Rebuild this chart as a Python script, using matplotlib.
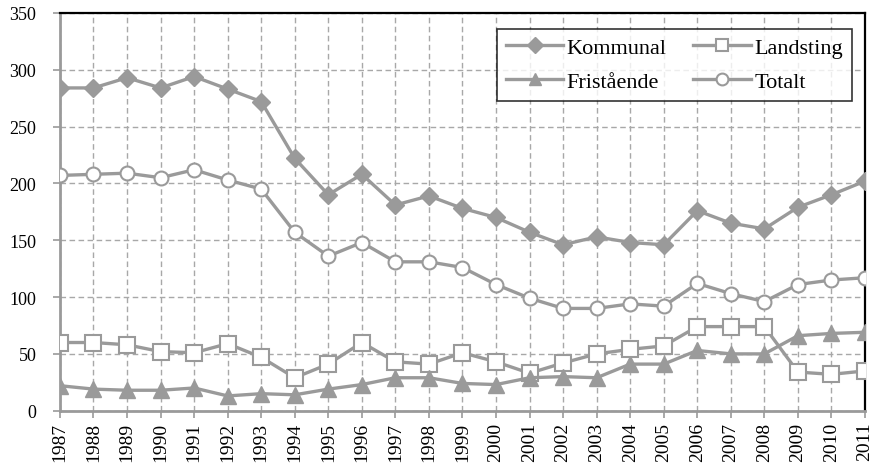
import matplotlib
matplotlib.use("Agg")
import matplotlib.pyplot as plt

years = list(range(1987, 2012))
kommunal = [284, 284, 293, 284, 294, 283, 272, 222, 190, 208, 181, 189, 178, 170, 157,
             146, 153, 148, 146, 176, 165, 160, 179, 190, 202]
landsting = [60, 60, 58, 52, 51, 59, 47, 29, 41, 60, 43, 41, 51, 43, 33,
             42, 50, 54, 57, 74, 74, 74, 34, 32, 35]
fristaende = [22, 19, 18, 18, 20, 13, 15, 14, 19, 23, 29, 29, 24, 23, 29,
              30, 29, 41, 41, 53, 50, 50, 66, 68, 69]
totalt = [207, 208, 209, 205, 212, 203, 195, 157, 136, 148, 131, 131, 126, 111, 99,
          90, 90, 94, 92, 112, 103, 96, 111, 115, 117]
yticks = [0, 50, 100, 150, 200, 250, 300, 350]

plt.rcParams['font.family'] = ['Liberation Serif', 'DejaVu Serif']
gray = '#9a9a9a'

fig = plt.figure(figsize=(8.74, 4.64), dpi=100)
ax = fig.add_axes([0.0686, 0.1127, 0.9211, 0.8573])

lw = 2.4
lk, = ax.plot(years, kommunal, color=gray, lw=lw, marker='D', ms=9, mfc=gray, mec=gray,
              label='Kommunal', zorder=3)
ll, = ax.plot(years, landsting, color=gray, lw=lw, marker='s', ms=11, mfc='white', mec=gray,
              mew=1.5, label='Landsting', zorder=3)
lf, = ax.plot(years, fristaende, color=gray, lw=lw, marker='^', ms=11, mfc=gray, mec=gray,
              label='Fristående', zorder=3)
lt, = ax.plot(years, totalt, color=gray, lw=lw, marker='o', ms=10, mfc='white', mec=gray,
              mew=1.5, label='Totalt', zorder=3)

ax.set_xlim(1987, 2011)
ax.set_ylim(0, 350)
ax.set_xticks(years)
ax.set_xticklabels([str(y) for y in years], rotation=90, fontsize=14)
ax.set_yticks(yticks)
ax.set_yticklabels([str(v) for v in yticks], fontsize=13)

ax.grid(True, color='#a8a8a8', linestyle=(0, (4, 2.5)), linewidth=1.0, zorder=0)
ax.set_axisbelow(True)

for s in ['left', 'bottom']:
    ax.spines[s].set_color(gray)
    ax.spines[s].set_linewidth(2)
for s in ['top', 'right']:
    ax.spines[s].set_color('black')
    ax.spines[s].set_linewidth(1.6)

ax.tick_params(axis='both', colors='black', length=5, width=1.2)
ax.tick_params(axis='both', which='both', color=gray)
ax.tick_params(axis='y', pad=12)
ax.tick_params(axis='x', pad=3)

leg = ax.legend([lk, lf, ll, lt], ['Kommunal', 'Fristående', 'Landsting', 'Totalt'],
                loc='upper right', ncol=2, bbox_to_anchor=(0.984, 0.96), borderaxespad=0,
                fontsize=16, frameon=True, fancybox=False, edgecolor='black',
                handlelength=2.6, handletextpad=0.15, columnspacing=1.2, borderpad=0.4,
                labelspacing=0.6, markerscale=0.85)
leg.get_frame().set_linewidth(1.2)

fig.savefig('out.png', dpi=100)
